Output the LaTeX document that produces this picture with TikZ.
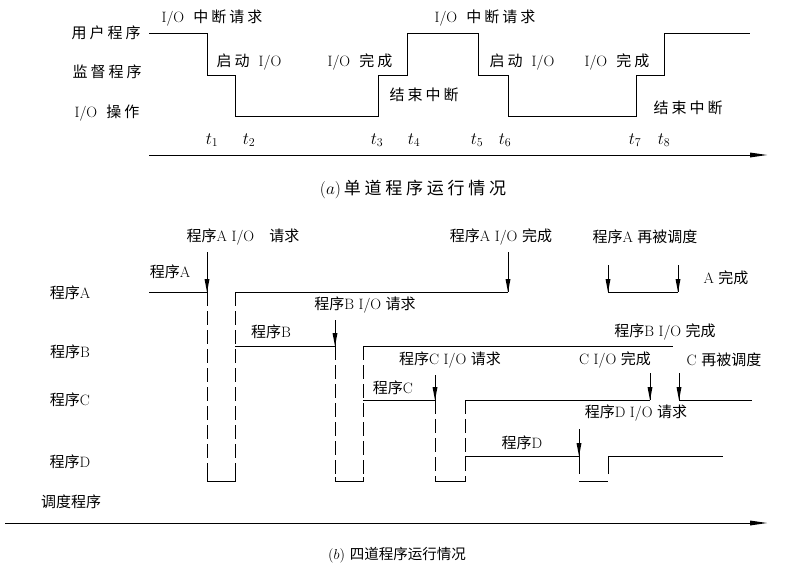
\documentclass[tikz,border=0pt]{standalone}
\usepackage{fontspec}
\usepackage{amsmath}
\newfontfamily\cjkfont{Noto Sans CJK SC}
\newfontfamily\cjkwide{Noto Sans CJK SC}[LetterSpace=20]
\newfontfamily\cjkcap{Noto Sans CJK SC}[LetterSpace=22]
\newcommand{\zh}[1]{{\cjkfont #1}}
\newcommand{\zw}[1]{{\cjkwide #1}}

\begin{document}
\begin{tikzpicture}[x=1pt,y=1pt]
      \tikzstyle{every node}+=[inner sep=0pt,font=\fontsize{15}{18}\selectfont]
      \tikzstyle{waitline}=[dash pattern=on 14pt off 5pt]
      \tikzstyle{tick}=[font=\fontsize{17}{20}\selectfont]
      \useasboundingbox (0,0) rectangle (786,-583);
      % (a) one program
      \draw [black] (149,-33) -- (207,-33) -- (207,-75) -- (235,-75) -- (235,-116) -- (378,-116) -- (378,-75) -- (407,-75) -- (407,-33) -- (478,-33) -- (478,-75) -- (508,-75) -- (508,-116) -- (636,-116) -- (636,-75) -- (664,-75) -- (664,-33) -- (750,-33);
      \draw [black] (149,-155) -- (752,-155);
      \fill [black] (767,-155) -- (750,-152.5) -- (750,-157.5);
      \node (user) at (106,-33) {\zw{用户程序}};
      \node (super) at (107,-72) {\zw{监督程序}};
      \node (ioop) at (107,-113) {I/O~~\zw{操作}};
      \node (req1) at (212,-18) {I/O~~\zw{中断请求}};
      \node (req2) at (485,-18) {I/O~~\zw{中断请求}};
      \node (start1) at (249,-62) {\zw{启动}~~I/O};
      \node (start2) at (522,-62) {\zw{启动}~~I/O};
      \node (done1) at (360,-62) {I/O~~\zw{完成}};
      \node (done2) at (617,-62) {I/O~~\zw{完成}};
      \node (end1) at (424,-95) {\zw{结束中断}};
      \node (end2) at (688,-108) {\zw{结束中断}};
      \node [tick] (t1) at (212,-140) {$t_1$};
      \node [tick] (t2) at (249,-140) {$t_2$};
      \node [tick] (t3) at (377,-140) {$t_3$};
      \node [tick] (t4) at (414,-140) {$t_4$};
      \node [tick] (t5) at (477,-140) {$t_5$};
      \node [tick] (t6) at (505,-140) {$t_6$};
      \node [tick] (t7) at (635,-140) {$t_7$};
      \node [tick] (t8) at (664,-140) {$t_8$};
      \node (capa) at (413,-189) {\fontsize{17}{20}\selectfont $(a)$\,{\cjkcap 单道程序运行情况}};
      % (b) four programs
      \draw [black] (5,-523) -- (752,-523);
      \fill [black] (767,-523) -- (750,-520.5) -- (750,-525.5);
      \node (lblA) at (70,-293) {\zh{程序}A};
      \node (lblB) at (70,-352) {\zh{程序}B};
      \node (lblC) at (70,-400) {\zh{程序}C};
      \node (lblD) at (70,-462) {\zh{程序}D};
      \node (sched) at (71,-502) {\zh{调度程序}};
      % program A
      \draw [black] (149,-292) -- (207,-292);
      \draw [black] (207,-252) -- (207,-292);
      \fill [black] (207,-292) -- (204.5,-279) -- (209.5,-279);
      \draw [black,waitline] (207,-292) -- (207,-481);
      \draw [black] (207,-477) -- (207,-481) -- (235,-481) -- (235,-477);
      \draw [black,waitline] (235,-292) -- (235,-481);
      \draw [black] (235,-292) -- (508,-292);
      \draw [black] (508,-252) -- (508,-292);
      \fill [black] (508,-292) -- (505.5,-279) -- (510.5,-279);
      \draw [black] (608,-292) -- (678,-292);
      \draw [black] (608,-265) -- (608,-292);
      \fill [black] (608,-292) -- (605.5,-279) -- (610.5,-279);
      \draw [black] (678,-265) -- (678,-292);
      \fill [black] (678,-292) -- (675.5,-279) -- (680.5,-279);
      \node (runA) at (170,-272) {\zh{程序}A};
      \node (reqA) at (243,-237) {\zh{程序}A~I/O\quad\zh{请求}};
      \node (doneA) at (501,-237) {\zh{程序}A~I/O~\zh{完成}};
      \node (againA) at (645,-237) {\zh{程序}A~\zh{再被调度}};
      \node (finA) at (726,-278) {A~\zh{完成}};
      % program B
      \draw [black] (235,-346) -- (335,-346);
      \draw [black] (335,-320) -- (335,-346);
      \fill [black] (335,-346) -- (332.5,-333) -- (337.5,-333);
      \draw [black,waitline] (335,-346) -- (335,-481);
      \draw [black] (335,-477) -- (335,-481) -- (363,-481) -- (363,-477);
      \draw [black,waitline] (363,-346) -- (363,-481);
      \draw [black] (363,-346) -- (673,-346);
      \node (runB) at (271,-332) {\zh{程序}B};
      \node (reqB) at (365,-305) {\zh{程序}B~I/O~\zh{请求}};
      \node (doneB) at (665,-332) {\zh{程序}B~I/O~\zh{完成}};
      % program C
      \draw [black] (363,-400) -- (435,-400);
      \draw [black] (435,-375) -- (435,-400);
      \fill [black] (435,-400) -- (432.5,-387) -- (437.5,-387);
      \draw [black,waitline] (435,-400) -- (435,-481);
      \draw [black] (435,-477) -- (435,-481) -- (465,-481) -- (465,-477);
      \draw [black,waitline] (465,-400) -- (465,-481);
      \draw [black] (465,-400) -- (650,-400);
      \draw [black] (650,-373) -- (650,-400);
      \fill [black] (650,-400) -- (647.5,-387) -- (652.5,-387);
      \draw [black] (679,-373) -- (679,-400);
      \fill [black] (679,-400) -- (676.5,-387) -- (681.5,-387);
      \draw [black] (679,-400) -- (752,-400);
      \node (runC) at (393,-388) {\zh{程序}C};
      \node (reqC) at (450,-360) {\zh{程序}C~I/O~\zh{请求}};
      \node (doneC) at (615,-360) {C~I/O~\zh{完成}};
      \node (againC) at (724,-360) {C~\zh{再被调度}};
      % program D
      \draw [black] (465,-456) -- (579,-456);
      \draw [black] (579,-429) -- (579,-456);
      \fill [black] (579,-456) -- (576.5,-443) -- (581.5,-443);
      \draw [black] (579,-456) -- (579,-474);
      \draw [black] (579,-481) -- (608,-481);
      \draw [black] (608,-474) -- (608,-456) -- (723,-456);
      \node (runD) at (522,-443) {\zh{程序}D};
      \node (reqD) at (636,-413) {\zh{程序}D~I/O~\zh{请求}};
      \node (capb) at (397,-555) {\fontsize{14.5}{17}\selectfont $(b)$~\zh{四道程序运行情况}};
    \end{tikzpicture}
\end{document}
